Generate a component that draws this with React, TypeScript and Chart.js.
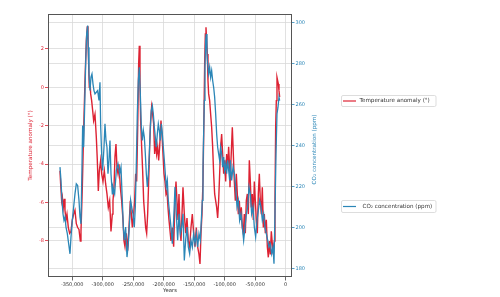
import { useEffect, useRef } from "react";
import { Chart, registerables } from "chart.js";

Chart.register(...registerables);

const FONT = "'DejaVu Sans', sans-serif";
const RED = "#dd2233";
const BLUE = "#2b86b7";
const GRID = "#d9d9d9";

// [year, temperature anomaly (°)]
const temperature: [number, number][] = [
  [-370000, -4.34], [-368900, -5.03], [-367260, -5.9], [-366170, -5.7], [-364530, -6.25], [-362890, -5.8],
  [-361800, -6.4], [-360160, -6.9], [-358520, -6.6], [-356330, -7.3], [-354150, -7.6], [-351960, -7.5],
  [-349780, -6.9], [-347590, -6.6], [-345410, -6.4], [-343220, -7.1], [-341040, -7.3], [-338850, -7.4],
  [-336660, -8.0], [-335570, -7.5], [-333380, -5.2], [-331200, -2.25], [-329010, 0.35], [-326830, 2.43],
  [-325190, 3.18], [-324100, 2.43], [-323000, 1.22], [-321910, 0.0], [-320820, 0.35], [-319720, -0.34],
  [-318090, -0.69], [-316450, -1.2], [-314810, -1.73], [-312620, -1.4], [-310440, -2.6], [-308800, -3.8],
  [-307160, -5.4], [-305520, -4.34], [-303340, -3.8], [-301700, -4.5], [-299510, -4.9], [-297320, -4.34],
  [-295140, -5.03], [-292950, -5.55], [-290770, -6.25], [-288580, -5.9], [-286400, -7.5], [-284210, -6.6],
  [-283110, -5.9], [-281470, -5.2], [-279830, -3.6], [-278190, -2.95], [-276550, -4.2], [-274910, -4.5],
  [-273280, -4.0], [-271090, -5.2], [-268900, -5.9], [-266720, -6.9], [-265080, -8.0], [-263440, -8.3],
  [-261260, -7.6], [-259070, -8.5], [-256880, -7.3], [-254700, -5.9], [-253060, -6.6], [-251420, -7.3],
  [-249230, -6.6], [-247600, -5.9], [-245960, -4.5], [-244320, -4.9], [-242680, -2.25], [-241040, 1.22],
  [-239950, 2.17], [-238850, 0.35], [-237760, -1.73], [-236120, -3.1], [-234480, -4.34], [-232840, -5.9],
  [-231200, -6.6], [-229560, -7.3], [-227920, -7.6], [-226280, -6.6], [-224640, -4.9], [-223010, -3.1],
  [-221370, -1.73], [-219730, -1.0], [-218090, -1.4], [-216450, -1.9], [-214810, -3.47], [-213170, -2.8],
  [-211530, -3.47], [-209890, -3.1], [-208250, -3.8], [-206610, -3.1], [-204430, -1.73], [-202790, -2.43],
  [-201150, -3.47], [-199510, -4.5], [-197870, -4.9], [-196230, -5.55], [-194590, -5.4], [-192950, -6.25],
  [-191320, -6.9],
  [-188030, -8.0], [-185850, -7.3], [-183660, -8.3], [-181470, -5.9], [-179830, -4.9], [-178200, -5.9],
  [-176560, -6.9], [-174920, -5.55], [-173280, -7.3], [-171640, -8.0], [-170000, -6.6], [-168360, -5.2],
  [-166170, -6.6], [-163990, -7.6], [-161800, -6.8], [-159620, -8.0], [-157430, -8.3], [-155250, -7.3],
  [-153060, -6.6], [-150880, -7.6], [-148690, -8.3], [-146510, -7.3], [-144320, -8.3], [-142130, -8.7],
  [-140490, -9.2], [-138850, -7.6], [-137220, -6.6], [-135580, -4.9], [-133940, -1.4], [-132840, 1.22],
  [-131750, 2.78], [-130660, 3.13], [-129560, 2.43], [-128470, 1.74], [-127380, 0.35], [-126290, -0.34],
  [-124650, -0.69], [-123010, -1.4], [-121370, -2.08], [-119730, -3.1], [-118090, -4.5], [-116450, -5.55],
  [-114810, -5.9], [-113170, -6.25], [-111530, -6.8], [-109900, -5.9], [-108260, -4.5], [-106620, -3.1],
  [-104980, -2.43], [-103340, -3.47], [-101700, -4.5], [-100060, -3.8], [-98420, -4.9], [-96780, -3.47],
  [-95140, -4.2], [-93500, -3.1], [-91860, -4.2],
  [-91310, -5.2], [-89670, -3.8], [-87490, -2.08], [-85850, -3.47], [-84210, -4.9], [-82570, -5.9],
  [-80930, -4.5], [-79290, -5.55], [-77650, -6.6], [-76010, -5.9], [-74370, -6.9], [-72730, -6.25],
  [-71090, -7.3], [-69460, -7.6], [-67820, -6.6], [-66180, -7.6], [-64540, -5.9], [-62900, -5.55],
  [-61260, -6.6], [-59620, -3.8], [-57980, -4.9], [-56340, -6.25], [-54700, -5.55], [-53060, -6.9],
  [-51420, -4.9], [-49780, -5.9], [-48150, -6.9], [-46510, -7.6], [-44870, -5.55], [-43230, -4.5],
  [-41590, -5.9], [-39950, -6.6], [-38310, -5.2], [-36670, -7.3], [-35030, -6.6], [-33390, -7.6],
  [-31750, -6.9], [-30110, -8.3], [-28470, -8.85], [-26840, -8.0], [-25200, -8.7], [-23560, -7.5],
  [-21920, -8.15], [-20280, -8.7], [-18640, -8.0], [-17550, -5.9], [-16450, -2.08], [-15360, -0.69],
  [-14270, 0.52], [-13170, 0.35], [-12080, 0.18], [-10990, -0.17], [-9900, -0.5],
];

// [year, CO2 concentration (ppm)]
const co2: [number, number][] = [
  [-370000, 229.6], [-368360, 223.1], [-366720, 213.4], [-365080, 206.9], [-363440, 203.7], [-361800, 205.3],
  [-360160, 200.4], [-357970, 197.2], [-355790, 192.3], [-353600, 187.4], [-351960, 195.6], [-349780, 203.7],
  [-347590, 210.2], [-345410, 216.6], [-343220, 221.5], [-341040, 220.7], [-338850, 213.4], [-337210, 205.3],
  [-335570, 202.0], [-333930, 229.6], [-332840, 249.9], [-331200, 239.3], [-329560, 258.8], [-327920, 279.9],
  [-326280, 294.5], [-324640, 298.6], [-323550, 288], [-322460, 275], [-320820, 266.9], [-319180, 273.4],
  [-317540, 275], [-315900, 270.2], [-314260, 266.9], [-312620, 265.3], [-310440, 266.1], [-308250, 266.9],
  [-306070, 262.1], [-304430, 271], [-303340, 250], [-301700, 236], [-300060, 228], [-297870, 239.3],
  [-296230, 250.7], [-294590, 242.6], [-292950, 239.3], [-291320, 226.4], [-289680, 232.9], [-288040, 242.6],
  [-286400, 226.4], [-284210, 216.6],
  [-283110, 219.9], [-280380, 216.6], [-277650, 228], [-274910, 231.2], [-272180, 226.4], [-270000, 229.6],
  [-267810, 213.4], [-266170, 200.4], [-264530, 194], [-262350, 200.4], [-260160, 185.8], [-257980, 192.3],
  [-255790, 203.7], [-254150, 213.4], [-252510, 210.2], [-250330, 206.9], [-248140, 200.4], [-246500, 210.2],
  [-244860, 231.2], [-243220, 255.6], [-241580, 271.8], [-239950, 278.3], [-238310, 265.3], [-236670, 249.1],
  [-235030, 242.6], [-233390, 247.5], [-231750, 244.2], [-230110, 236.1], [-228470, 226.4], [-226830, 219.9],
  [-225190, 226.4], [-223550, 236.1], [-221910, 249.1], [-220270, 257.2], [-218640, 259.6], [-217000, 255.6],
  [-215360, 249.1], [-213720, 244.2], [-212080, 239.3], [-210440, 245.8], [-208800, 250.7], [-207160, 247.5],
  [-205520, 242.6], [-203880, 250.7], [-202240, 245.8], [-200600, 239.3], [-198960, 232.9], [-197330, 226.4],
  [-195690, 219.9], [-194050, 223.1], [-192410, 213.4], [-190220, 206.9],
  [-188030, 200.4], [-185850, 192.3], [-183660, 203.7], [-181470, 219.9], [-179290, 206.9], [-177100, 194],
  [-174920, 206.9], [-172730, 197.2], [-170550, 200.4], [-168360, 206.9], [-166170, 184.2], [-163990, 194],
  [-161800, 200.4], [-159620, 190.7], [-157430, 187.4], [-155250, 194], [-153060, 190.7], [-150880, 197.2],
  [-148690, 192.3], [-146510, 197.2], [-144320, 190.7], [-142130, 197.2], [-139950, 194], [-138310, 203.7],
  [-136670, 213.4], [-135580, 229.6], [-134480, 245.8], [-133390, 262.1], [-132300, 278.3], [-131200, 291.3],
  [-130110, 294.5], [-129020, 284.8], [-127930, 279.9], [-126290, 275], [-124650, 278.3], [-123010, 273.4],
  [-121370, 276.6], [-119730, 271.8], [-118090, 268.5], [-116450, 263.7], [-114810, 255.6], [-113170, 245.8],
  [-111530, 239.3], [-109900, 236.1], [-108260, 232.9], [-106620, 239.3], [-104980, 236.1], [-103340, 229.6],
  [-101700, 234.5], [-100060, 228], [-98420, 231.2], [-96780, 226.4], [-95140, 232.9], [-93500, 228],
  [-91860, 223.1],
  [-90760, 232.9], [-88580, 223.1], [-86390, 229.6], [-84210, 226.4], [-82020, 219.9], [-79840, 210.2],
  [-77650, 213.4], [-75470, 203.7], [-73280, 206.9], [-71090, 200.4], [-68910, 194], [-66720, 200.4],
  [-64540, 206.9], [-62350, 210.2], [-60170, 219.9], [-57980, 216.6], [-55800, 206.9], [-53610, 210.2],
  [-51420, 200.4], [-49240, 195.6], [-47050, 203.7], [-44870, 208.5], [-42680, 213.4], [-40500, 210.2],
  [-38310, 203.7], [-36130, 206.9], [-33940, 200.4], [-31750, 197.2], [-29570, 194], [-27380, 190.7],
  [-25200, 192.3], [-23010, 187.4], [-20830, 190.7], [-19190, 182.6], [-17550, 206.9], [-15910, 236.1],
  [-14270, 255.6], [-12630, 258.8], [-10990, 263.7], [-9900, 262],
];

const tempLabel = "Temperature anomaly (°)";
const co2Label = "CO₂ concentration (ppm)";
const xTitle = "Years";

const xTicks = [-350000, -300000, -250000, -200000, -150000, -100000, -50000, 0];
const tempTicks = [-8, -6, -4, -2, 0, 2];
const co2Ticks = [180, 200, 220, 240, 260, 280, 300];

const xRange = { min: -388000, max: 8700 };
const tempRange = { min: -9.875, max: 3.82 };
const co2Range = { min: 176.1, max: 304.2 };

const setTicks = (values: number[]) => (s: any) => {
  s.ticks = values.map((value) => ({ value }));
};

export default function App() {
  const ref = useRef<HTMLCanvasElement>(null);

  useEffect(() => {
    if (!ref.current) return;

    const framePlugin = {
      id: "frame",
      afterDatasetsDraw(chart: any) {
        const { left, top, right, bottom } = chart.chartArea;
        const c = chart.ctx;
        c.save();
        c.strokeStyle = "#555";
        c.lineWidth = 1;
        c.strokeRect(Math.round(left) - 0.5, Math.round(top) + 0.5, Math.round(right - left) + 1, Math.round(bottom - top) - 1);
        c.restore();
      },
    };

    const textPlugin = {
      id: "sideTexts",
      afterDraw(chart: any) {
        const c = chart.ctx;
        const { top, bottom, right } = chart.chartArea;
        c.save();
        // right axis title, reading bottom-to-top
        c.translate(right + 23.5, (top + bottom) / 2 + 4);
        c.rotate(-Math.PI / 2);
        c.fillStyle = BLUE;
        c.font = `5.6px ${FONT}`;
        c.textAlign = "center";
        c.textBaseline = "middle";
        c.fillText(co2Label, 0, 0);
        c.restore();

        const boxes = [
          { y: 95.5, h: 11, color: RED, text: tempLabel, tx: 359.5 },
          { y: 200.5, h: 12, color: BLUE, text: co2Label, tx: 362.5 },
        ];
        c.save();
        for (const b of boxes) {
          c.fillStyle = "#fff";
          c.strokeStyle = "#d4d4d4";
          c.lineWidth = 0.8;
          c.beginPath();
          (c as any).roundRect(341.5, b.y, 94.5, b.h, 1.5);
          c.fill();
          c.stroke();
          const cy = b.y + b.h / 2;
          c.strokeStyle = b.color;
          c.lineWidth = 1.2;
          c.beginPath();
          c.moveTo(343, cy);
          c.lineTo(356, cy);
          c.stroke();
          c.fillStyle = "#333";
          c.font = `5.6px ${FONT}`;
          c.textBaseline = "middle";
          c.textAlign = "left";
          c.fillText(b.text, b.tx, cy);
        }
        c.restore();
      },
    };

    const chart = new Chart(ref.current, {
      type: "line",
      data: {
        datasets: [
          {
            label: tempLabel,
            data: temperature.map(([x, y]) => ({ x, y })),
            borderColor: RED,
            borderWidth: 1.4,
            pointRadius: 0,
            tension: 0,
            yAxisID: "yT",
            order: 2,
          },
          {
            label: co2Label,
            data: co2.map(([x, y]) => ({ x, y })),
            borderColor: BLUE,
            borderWidth: 1.3,
            pointRadius: 0,
            tension: 0,
            yAxisID: "yC",
            order: 1,
          },
        ],
      },
      options: {
        responsive: false,
        animation: false,
        events: [],
        layout: { padding: { left: 0, top: 14, right: 179, bottom: 0 } },
        plugins: { legend: { display: false }, tooltip: { enabled: false }, title: { display: false } },
        scales: {
          x: {
            type: "linear",
            min: xRange.min,
            max: xRange.max,
            afterBuildTicks: setTicks(xTicks),
            border: { display: false },
            grid: { color: GRID, lineWidth: 0.8, tickColor: "#444", tickLength: 3.5 },
            ticks: {
              autoSkip: false,
              maxRotation: 0,
              padding: 1,
              color: "#333",
              font: { family: FONT, size: 5 },
            },
            title: {
              display: true,
              text: xTitle,
              color: "#333",
              font: { family: FONT, size: 5.3 },
              padding: { top: 0, bottom: 3 },
            },
            afterFit: (s: any) => {
              s.height = 20;
            },
          },
          yT: {
            type: "linear",
            position: "left",
            min: tempRange.min,
            max: tempRange.max,
            afterBuildTicks: setTicks(tempTicks),
            border: { display: false },
            grid: { color: GRID, lineWidth: 0.8, tickColor: RED, tickLength: 4 },
            ticks: {
              autoSkip: false,
              padding: 1,
              color: RED,
              font: { family: FONT, size: 5 },
            },
            title: {
              display: true,
              text: tempLabel,
              color: RED,
              font: { family: FONT, size: 5.6 },
              padding: { top: 27.5, bottom: 0 },
            },
            afterFit: (s: any) => {
              s.width = 49;
            },
          },
          yC: {
            type: "linear",
            position: "right",
            min: co2Range.min,
            max: co2Range.max,
            afterBuildTicks: setTicks(co2Ticks),
            border: { display: false },
            grid: { color: GRID, lineWidth: 0.8, tickColor: BLUE, tickLength: 3.5 },
            ticks: {
              autoSkip: false,
              padding: 1,
              color: BLUE,
              font: { family: FONT, size: 5 },
            },
            title: { display: false },
            afterFit: (s: any) => {
              s.width = 30;
            },
          },
        },
      },
      plugins: [framePlugin, textPlugin],
    } as any);

    return () => chart.destroy();
  }, []);

  return (
    <div style={{ position: "absolute", left: 0, top: 0, width: 500, height: 297, background: "#fff" }}>
      <canvas ref={ref} width={500} height={297} style={{ display: "block", width: 500, height: 297 }} />
    </div>
  );
}
